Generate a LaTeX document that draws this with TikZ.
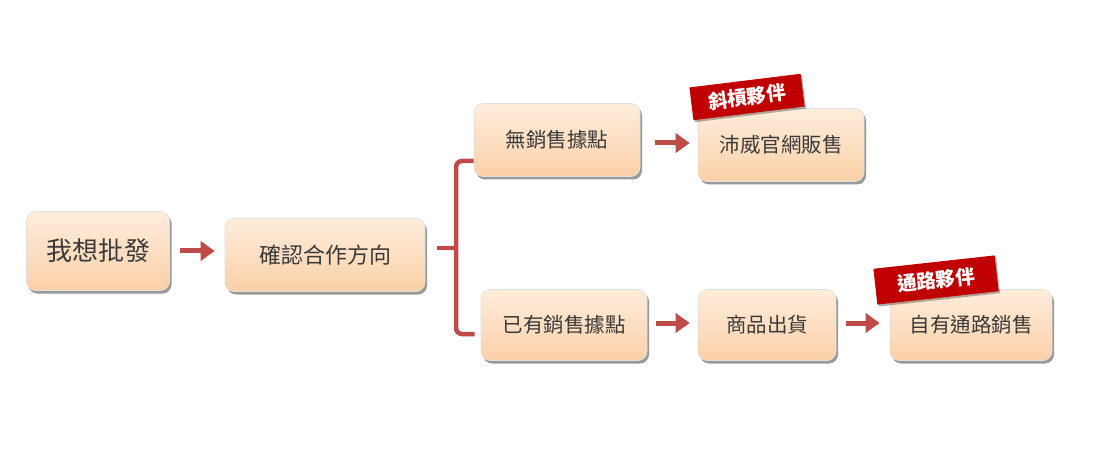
\documentclass[tikz,border=0pt]{standalone}
\usepackage{fontspec}
\newfontfamily\cjk{Noto Sans CJK TC}
\usetikzlibrary{arrows.meta,shadows}
\definecolor{boxtop}{HTML}{FEEDDC}
\definecolor{boxbot}{HTML}{FBD0A8}
\definecolor{arrc}{HTML}{BE4B48}
\definecolor{tagred}{HTML}{C00000}
\definecolor{txt}{HTML}{3A3A3A}
\begin{document}
\begin{tikzpicture}[x=1pt,y=-1pt,
  stepbox/.style={rounded corners=9pt, draw=black!12, line width=0.6pt,
    top color=boxtop, bottom color=boxbot,
    drop shadow={shadow xshift=2pt, shadow yshift=-3pt, fill=black, opacity=0.4},
    text=txt, font=\cjk\fontsize{20.5}{21}\selectfont, inner sep=0pt},
  tagbox/.style={fill=tagred, text=white, inner sep=0pt,
    drop shadow={shadow xshift=1.5pt, shadow yshift=-2pt, fill=black, opacity=0.3},
    font=\cjk\bfseries\fontsize{19.5}{20}\selectfont},
  flow/.style={draw=arrc, line width=5pt, -{Triangle[length=14pt,width=19pt]}},
  brk/.style={draw=arrc, line width=4.5pt, rounded corners=6pt}
]
\useasboundingbox (0,0) rectangle (1102,454);
\fill[white] (0,0) rectangle (1102,454);

\node[stepbox, minimum width=143pt, minimum height=79pt,
  font=\cjk\fontsize{26}{27}\selectfont] (a) at (98,251) {我想批發};
\node[stepbox, minimum width=200pt, minimum height=73pt,
  font=\cjk\fontsize{22}{23}\selectfont] (b) at (325,255) {確認合作方向};
\node[stepbox, minimum width=166pt, minimum height=73pt] (c) at (557,140) {無銷售據點};
\node[stepbox, minimum width=166pt, minimum height=73pt] (d) at (781,145) {沛威官網販售};
\node[stepbox, minimum width=166pt, minimum height=71pt] (f) at (564,325) {已有銷售據點};
\node[stepbox, minimum width=138pt, minimum height=71pt] (g) at (767,325) {商品出貨};
\node[stepbox, minimum width=162pt, minimum height=71pt] (h) at (971,325) {自有通路銷售};

\node[tagbox, minimum width=112pt, minimum height=33pt, rotate=7] (t1) at (747,97) {斜槓夥伴};
\node[tagbox, minimum width=122pt, minimum height=36pt, rotate=6.3] (t2) at (936,280) {通路夥伴};

\draw[flow] ([xshift=10pt]a.east) -- ([xshift=-10pt]a.east -| b.west);
\draw[flow] ([xshift=15pt,yshift=-3pt]c.east) -- ([xshift=-8pt,yshift=-3pt]c.east -| d.west);
\draw[flow] ([xshift=9pt,yshift=2pt]f.east) -- ([xshift=-8pt,yshift=2pt]f.east -| g.west);
\draw[flow] ([xshift=10pt,yshift=2pt]g.east) -- ([xshift=-10pt,yshift=2pt]g.east -| h.west);

\coordinate (br) at (456,248);
\draw[brk] ([yshift=-21pt]c.west) -| (br) |- ([xshift=-6pt,yshift=-9pt]f.west);
\draw[brk, rounded corners=0pt] (br) -- ([xshift=12pt]b.east |- br);
\end{tikzpicture}
\end{document}
